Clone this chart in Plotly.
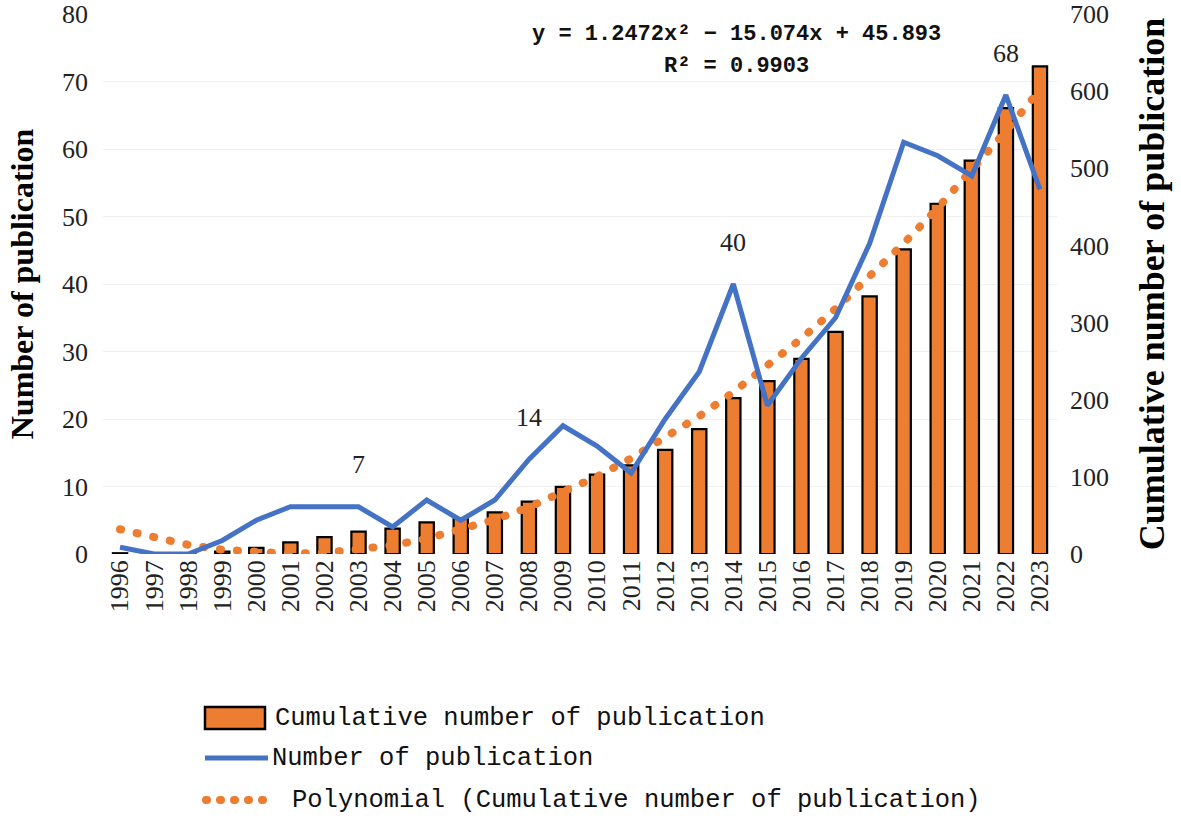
import plotly.graph_objects as go

# data
years = list(range(1996, 2024))
annual = [1, 0, 0, 2, 5, 7, 7, 7, 4, 8, 5, 8, 14, 19, 16, 12, 20, 27, 40, 22, 29, 35, 46, 61, 59, 56, 68, 54]
cumulative = [1, 1, 1, 3, 8, 15, 22, 29, 33, 41, 46, 54, 68, 87, 103, 115, 135, 162, 202, 224,
              253, 288, 334, 395, 454, 510, 578, 632]
# polynomial trendline values (from y = 1.2472x^2 - 15.074x + 45.893 shown on chart)
trend = [32.07, 20.73, 11.90, 5.55, 1.70, 0.35, 1.49, 5.12, 11.25, 19.87, 30.99, 44.60, 60.71, 79.31,
         100.40, 123.99, 150.08, 178.65, 209.73, 243.29, 279.35, 317.91, 358.96, 402.50, 448.54,
         497.08, 548.10, 601.63]
label_years = [2003, 2008, 2014, 2022]

ORANGE = "#ED7D31"
BLUE = "#4472C4"
SERIF = "Liberation Serif, Times New Roman, serif"
MONO = "Liberation Mono, Courier New, monospace"

# plot area in pixels
L, R, T, B = 103, 1057, 14, 554


def px(x):
    return (x - L) / (R - L)


def py(y):
    return (B - y) / (B - T)


fig = go.Figure()

# bars on the cumulative (right) axis = yaxis, drawn first
fig.add_trace(go.Bar(
    x=years, y=cumulative, name="Cumulative number of publication",
    marker=dict(color=ORANGE, line=dict(color="black", width=2.2)),
    width=0.42, yaxis="y",
))
# trendline on cumulative axis
fig.add_trace(go.Scatter(
    x=years, y=trend, mode="lines", name="Polynomial (Cumulative number of publication)",
    line=dict(color=ORANGE, width=8, dash="1px,16px"), yaxis="y",
))
# annual count line on the left axis (overlaying, so drawn on top)
fig.add_trace(go.Scatter(
    x=years, y=annual, mode="lines", name="Number of publication",
    line=dict(color=BLUE, width=5), yaxis="y2",
))

for yr in label_years:
    v = annual[years.index(yr)]
    fig.add_annotation(
        x=yr, y=v, xref="x", yref="y2", text=str(v), xanchor="center", yanchor="middle",
        showarrow=False, yshift=42, font=dict(family=SERIF, size=26, color="#222"),
    )

eq_font = dict(family=MONO, size=22, color="#111")
fig.add_annotation(
    x=px(736), y=py(34), xref="paper", yref="paper", showarrow=False,
    xanchor="center", yanchor="middle",
    text="<b>y = 1.2472x² − 15.074x + 45.893</b>", font=eq_font,
)
fig.add_annotation(
    x=px(736), y=py(66), xref="paper", yref="paper", showarrow=False,
    xanchor="center", yanchor="middle",
    text="<b>R² = 0.9903</b>", font=eq_font,
)

# hand-made legend below the chart
leg_font = dict(family=MONO, size=25.5, color="#111")
fig.add_shape(type="rect", xref="paper", yref="paper",
              x0=px(205), x1=px(265), y0=py(729), y1=py(707),
              fillcolor=ORANGE, line=dict(color="black", width=2.5))
fig.add_shape(type="line", xref="paper", yref="paper",
              x0=px(205), x1=px(268), y0=py(758), y1=py(758),
              line=dict(color=BLUE, width=5))
fig.add_shape(type="line", xref="paper", yref="paper",
              x0=px(206), x1=px(264), y0=py(800), y1=py(800),
              line=dict(color=ORANGE, width=8, dash="1px,13px"))
legend_rows = [
    (273, 718, "Cumulative number of publication"),
    (270, 758, "Number of publication"),
    (290, 800, "Polynomial (Cumulative number of publication)"),
]
for lx, ly, txt in legend_rows:
    fig.add_annotation(x=px(lx), y=py(ly), xref="paper", yref="paper",
                       xanchor="left", yanchor="middle",
                       showarrow=False, text=txt, font=leg_font)

fig.update_layout(
    width=1181, height=818,
    margin=dict(l=L, r=1181 - R, t=T, b=818 - B),
    plot_bgcolor="white", paper_bgcolor="white",
    showlegend=False,
    xaxis=dict(
        range=[1995.5, 2023.5], tickmode="array", tickvals=years, tickangle=-90,
        showgrid=False, showline=False, zeroline=False, automargin=False,
        ticks="", tickfont=dict(family=SERIF, size=26, color="#222"),
    ),
    yaxis=dict(
        side="right", range=[0, 700], dtick=100, showgrid=False, zeroline=False, automargin=False,
        tickfont=dict(family=SERIF, size=26, color="#222"), ticklabelstandoff=12,
        title=dict(text="<b>Cumulative number of publication</b>", standoff=30,
                   font=dict(family=SERIF, size=36, color="black")),
    ),
    yaxis2=dict(
        side="left", overlaying="y", range=[0, 80], dtick=10, showgrid=True,
        gridcolor="#f0f0f0", gridwidth=1, zeroline=False, automargin=False,
        tickfont=dict(family=SERIF, size=26, color="#222"), ticklabelstandoff=14,
        title=dict(text="<b>Number of publication</b>", standoff=18,
                   font=dict(family=SERIF, size=32, color="black")),
    ),
)

# no page margin, and round caps so the dotted trendline shows round dots
post = (
    "document.body.style.margin='0';"
    "document.querySelectorAll('path').forEach(function(p){"
    "var d=p.style.strokeDasharray; if(d && d!=='none' && d!==''){p.style.strokeLinecap='round';}});"
)
fig.write_html("out.html", post_script=post, config={"displayModeBar": False})
